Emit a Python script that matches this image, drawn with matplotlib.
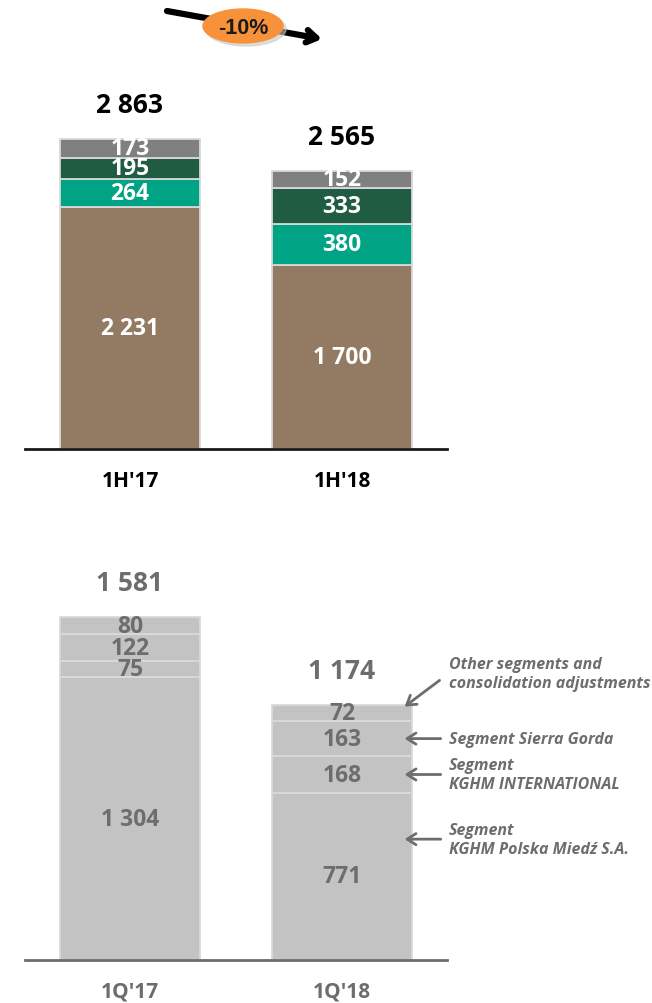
import matplotlib
matplotlib.use("Agg")
import matplotlib.pyplot as plt
from matplotlib.patches import Ellipse
import numpy as np

plt.rcParams['font.family'] = ['Open Sans', 'DejaVu Sans']

# half-year revenue by segment (PLN m)
periods_h = ["1H'17", "1H'18"]
polska_h = [2231, 1700]
intl_h = [264, 380]
sierra_h = [195, 333]
other_h = [173, 152]

# quarterly revenue by segment (PLN m)
periods_q = ["1Q'17", "1Q'18"]
polska_q = [1304, 771]
intl_q = [75, 168]
sierra_q = [122, 163]
other_q = [80, 72]

change_label = "-10%"

seg_notes = ["Segment\nKGHM Polska Miedź S.A.", "Segment\nKGHM INTERNATIONAL",
             "Segment Sierra Gorda", "Other segments and\nconsolidation adjustments"]

W, H = 652, 1004
fig = plt.figure(figsize=(W / 100, H / 100), dpi=100)


def px_axes(left, top, right, bottom):
    return fig.add_axes([left / W, 1 - bottom / H, (right - left) / W, (bottom - top) / H])


def fmt(v):
    return f"{v:,}".replace(",", " ")


def stacked(ax, labels, series, colors, txt_colors, total_color, edge, axis_color, ymax):
    x = np.arange(len(labels))
    bottom = np.zeros(len(labels))
    for vals, col, tc in zip(series, colors, txt_colors):
        vals = np.array(vals)
        ax.bar(x, vals, 0.66, bottom=bottom, color=col, edgecolor=edge, linewidth=1.3)
        for xi, b, v in zip(x, bottom, vals):
            ax.text(xi, b + v / 2, fmt(v), ha='center', va='center', color=tc,
                    fontsize=16.5, fontweight='bold')
        bottom += vals
    for xi, t in zip(x, bottom):
        ax.annotate(fmt(int(t)), (xi, t), xytext=(0, 25), textcoords='offset points',
                    ha='center', va='center', fontsize=19, fontweight='bold', color=total_color)
    ax.set_xlim(-0.495, 1.495)
    ax.set_ylim(0, ymax)
    ax.set_xticks(x)
    ax.set_xticklabels(labels, fontsize=15, fontweight='bold', color=total_color)
    ax.tick_params(axis='x', length=0, pad=15)
    ax.set_yticks([])
    for s in ['top', 'left', 'right']:
        ax.spines[s].set_visible(False)
    ax.spines['bottom'].set_color(axis_color)
    ax.spines['bottom'].set_linewidth(2)
    return x


# top panel: half-years
ax1 = px_axes(25, 80, 447, 450)
stacked(ax1, periods_h, [polska_h, intl_h, sierra_h, other_h],
        ['#937B63', '#00A383', '#1F5C42', '#808080'], ['white'] * 4,
        '#000000', '#D9D9D9', '#1A1A1A', 370 / (310 / 2863))

# bottom panel: quarters
ax2 = px_axes(25, 560, 447, 961)
qseries = [polska_q, intl_q, sierra_q, other_q]
x2 = stacked(ax2, periods_q, qseries,
             ['#C3C3C3'] * 4, ['#6D6D6D'] * 4,
             '#6D6D6D', '#DADADA', '#6D6D6D', 401 / (343 / 1581))

# segment notes next to the 1Q'18 bar
note_col = '#6D6D6D'
note_kw = dict(ha='left', va='center', fontsize=11.5, fontweight='bold', style='italic',
               color=note_col, annotation_clip=False, linespacing=1.25)
cum = np.cumsum([s[1] for s in qseries])
starts = np.concatenate([[0], cum[:-1]])
tip_x = x2[1] + 0.33 - 0.035
mids = [557, starts[1] + intl_q[1] / 2, starts[2] + sierra_q[1] / 2]
for note, y in zip(seg_notes[:3], mids):
    ax2.annotate(note, (tip_x, y), xytext=(32, 0), textcoords='offset points',
                 arrowprops=dict(arrowstyle='->,head_length=0.55,head_width=0.35',
                                 color=note_col, lw=2, shrinkA=4, shrinkB=0),
                 **note_kw)
ax2.annotate(seg_notes[3], (tip_x, cum[-1] - 6), xytext=(32, 24), textcoords='offset points',
             arrowprops=dict(arrowstyle='->,head_length=0.55,head_width=0.35',
                             color=note_col, lw=2, shrinkA=6, shrinkB=0,
                             relpos=(0, 0.5)),
             **note_kw)

# change badge across the top
ov = fig.add_axes([0, 0, 1, 1])
ov.set_xlim(0, W)
ov.set_ylim(H, 0)
ov.axis('off')
ov.annotate('', (322, 40), xytext=(167, 12),
            arrowprops=dict(arrowstyle='->,head_length=0.7,head_width=0.45',
                            color='black', lw=4.5, shrinkA=0, shrinkB=0))
ov.add_patch(Ellipse((246, 30), 80, 34, color='#C9C9C9', alpha=0.6, zorder=3))
ov.add_patch(Ellipse((243, 27), 80, 34, color='#F7923A', zorder=4))
ov.text(243, 28, change_label, ha='center', va='center', fontsize=15.5,
        fontweight='bold', color='#1A1A1A', zorder=5,
        family=['Liberation Sans', 'DejaVu Sans'])

fig.savefig('out.png', dpi=100)
